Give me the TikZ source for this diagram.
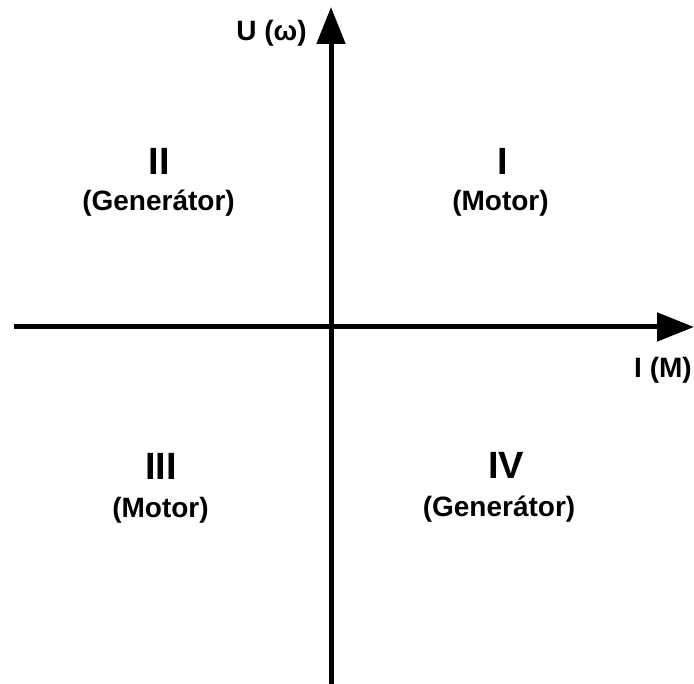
\documentclass[tikz,border=0pt]{standalone}
\usepackage{fontspec}
\setmainfont{Liberation Sans}
\usetikzlibrary{arrows.meta}
\tikzset{
  axisline/.style={draw=black,line width=5pt,-{Triangle[length=37pt,width=28pt]}},
  quadnum/.style={anchor=base,inner sep=0pt,font=\fontsize{38}{40}\selectfont\bfseries},
  quadnote/.style={anchor=base,inner sep=0pt,font=\fontsize{28}{30}\selectfont\bfseries},
  axislabel/.style={anchor=base,inner sep=0pt,font=\fontsize{28}{30}\selectfont\bfseries},
}
\begin{document}
\begin{tikzpicture}[x=1pt,y=1pt]
        \path[use as bounding box] (0,0) rectangle (694,684);
        \coordinate (xstart) at (14,357);
        \coordinate (xend) at (694,357);
        \coordinate (ystart) at (331,0);
        \coordinate (yend) at (331,677);
        \draw[axisline] (xstart)--(xend);
        \draw[axisline] (ystart)--(yend);
        \node[axislabel] (ulabel) at (271.5,643) {U (ω)};
        \node[axislabel] (ilabel) at (663,306) {I (M)};
        \foreach \q/\nx/\ny/\num/\tx/\ty/\txt in
          {1/503/509/I/500.5/473/Motor,
           2/159/509/II/158.5/473/Generátor,
           3/161/204/III/160.5/166/Motor,
           4/506/205/IV/499/167/Generátor}
          {\node[quadnum] (num\q) at (\nx,\ny) {\num};
           \node[quadnote] (note\q) at (\tx,\ty) {(\txt)};}
      \end{tikzpicture}
\end{document}
